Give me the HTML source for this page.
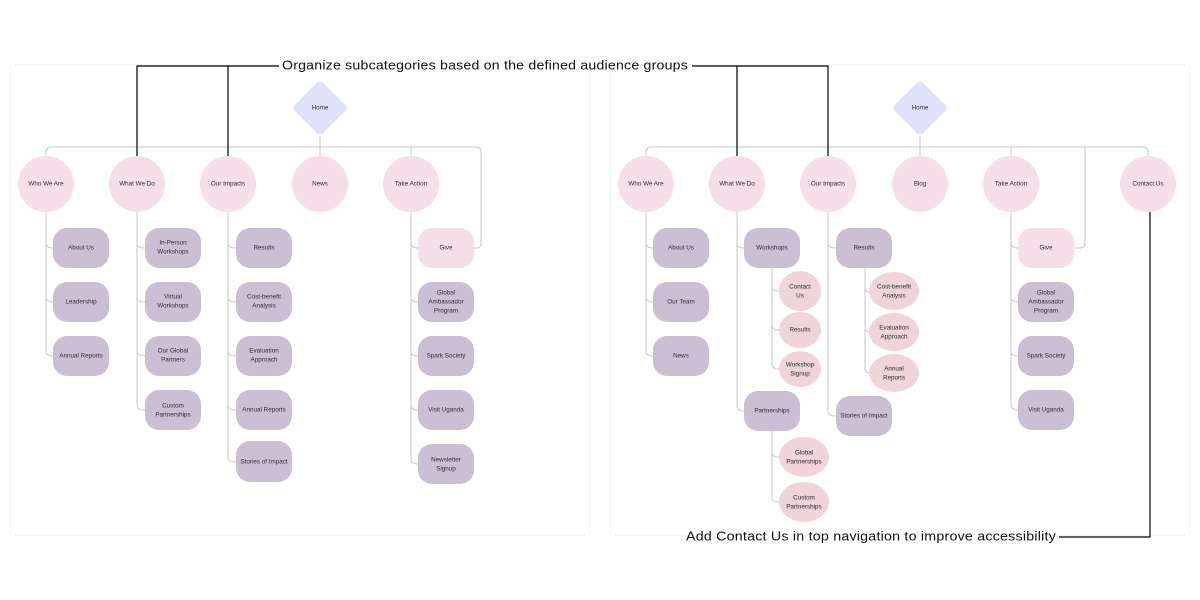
<!DOCTYPE html>
<html><head><meta charset="utf-8"><style>
html,body{margin:0;padding:0;background:#fff;width:1200px;height:600px;overflow:hidden}
svg text{font-family:"Liberation Sans",sans-serif}
.n{font-size:6.3px;fill:#2e2a33;text-anchor:middle;dominant-baseline:middle}
.a{font-size:13px;fill:#111;letter-spacing:0.2px;dominant-baseline:middle}
.c{fill:none;stroke:#c8c6cc;stroke-width:1}
.k{fill:none;stroke:#000;stroke-width:1.2}
.r{fill:#cbc0d3}
.p{fill:#f5dfe8}
.e{fill:#efd4da}
.d{fill:#dfe1fb}
</style></head><body>
<svg width="1200" height="600" viewBox="0 0 1200 600" xmlns="http://www.w3.org/2000/svg">
<rect x="10" y="65" width="580" height="470" rx="4" fill="#fff" stroke="#f2f2f4"/>
<rect x="610" y="65" width="580" height="470" rx="4" fill="#fff" stroke="#f2f2f4"/>

<!-- LEFT connectors -->
<path class="c" d="M320 136 V147 M46 156 V152 Q46 147 51 147 H476 Q481 147 481 152 V243 Q481 248 476 248 H474"/>
<path class="c" d="M137 147 V156 M228 147 V156 M320 147 V156 M411 147 V156"/>
<path class="c" d="M46 212 V351 Q46 356 53 356 M46 243 Q46 248 53 248 M46 297 Q46 302 53 302"/>
<path class="c" d="M137 212 V405 Q137 410 145 410 M137 243 Q137 248 145 248 M137 297 Q137 302 145 302 M137 351 Q137 356 145 356"/>
<path class="c" d="M228 212 V457 Q228 462 236 462 M228 243 Q228 248 236 248 M228 297 Q228 302 236 302 M228 351 Q228 356 236 356 M228 405 Q228 410 236 410"/>
<path class="c" d="M411 212 V459 Q411 464 418 464 M411 243 Q411 248 418 248 M411 297 Q411 302 418 302 M411 351 Q411 356 418 356 M411 405 Q411 410 418 410"/>

<!-- LEFT nodes -->
<rect class="d" x="300" y="88" width="40" height="40" rx="4" transform="rotate(45 320 108)"/>
<text class="n" x="320" y="108">Home</text>
<circle class="p" cx="46" cy="184" r="28"/><text class="n" x="46" y="184">Who We Are</text>
<circle class="p" cx="137" cy="184" r="28"/><text class="n" x="137" y="184">What We Do</text>
<circle class="p" cx="228" cy="184" r="28"/><text class="n" x="228" y="184">Our Impacts</text>
<circle class="p" cx="320" cy="184" r="28"/><text class="n" x="320" y="184">News</text>
<circle class="p" cx="411" cy="184" r="28"/><text class="n" x="411" y="184">Take Action</text>

<rect class="r" x="53" y="228" width="56" height="40" rx="14"/><text class="n" x="81" y="248">About Us</text>
<rect class="r" x="53" y="282" width="56" height="40" rx="14"/><text class="n" x="81" y="302">Leadership</text>
<rect class="r" x="53" y="336" width="56" height="40" rx="14"/><text class="n" x="81" y="356">Annual Reports</text>

<rect class="r" x="145" y="228" width="56" height="40" rx="14"/><text class="n" x="173" y="243">In-Person</text><text class="n" x="173" y="252">Workshops</text>
<rect class="r" x="145" y="282" width="56" height="40" rx="14"/><text class="n" x="173" y="297">Virtual</text><text class="n" x="173" y="306">Workshops</text>
<rect class="r" x="145" y="336" width="56" height="40" rx="14"/><text class="n" x="173" y="351">Our Global</text><text class="n" x="173" y="360">Partners</text>
<rect class="r" x="145" y="390" width="56" height="40" rx="14"/><text class="n" x="173" y="406">Custom</text><text class="n" x="173" y="415">Partnerships</text>

<rect class="r" x="236" y="228" width="56" height="40" rx="14"/><text class="n" x="264" y="248">Results</text>
<rect class="r" x="236" y="282" width="56" height="40" rx="14"/><text class="n" x="264" y="297">Cost-benefit</text><text class="n" x="264" y="306">Analysis</text>
<rect class="r" x="236" y="336" width="56" height="40" rx="14"/><text class="n" x="264" y="351">Evaluation</text><text class="n" x="264" y="360">Approach</text>
<rect class="r" x="236" y="390" width="56" height="40" rx="14"/><text class="n" x="264" y="410">Annual Reports</text>
<rect class="r" x="236" y="441" width="56" height="41" rx="14"/><text class="n" x="264" y="462">Stories of Impact</text>

<rect class="p" x="418" y="228" width="56" height="40" rx="14"/><text class="n" x="446" y="248">Give</text>
<rect class="r" x="418" y="282" width="56" height="40" rx="14"/><text class="n" x="446" y="293">Global</text><text class="n" x="446" y="302">Ambassador</text><text class="n" x="446" y="311">Program</text>
<rect class="r" x="418" y="336" width="56" height="40" rx="14"/><text class="n" x="446" y="356">Spark Society</text>
<rect class="r" x="418" y="390" width="56" height="40" rx="14"/><text class="n" x="446" y="410">Visit Uganda</text>
<rect class="r" x="418" y="444" width="56" height="40" rx="14"/><text class="n" x="446" y="460">Newsletter</text><text class="n" x="446" y="469">Signup</text>

<!-- RIGHT connectors -->
<path class="c" d="M920 136 V147 M646 156 V152 Q646 147 651 147 H1143 Q1148 147 1148 152 V156"/>
<path class="c" d="M737 147 V156 M828 147 V156 M920 147 V156 M1011 147 V156 M1085 147 V243 Q1085 248 1080 248 H1074"/>
<path class="c" d="M646 212 V351 Q646 356 653 356 M646 243 Q646 248 653 248 M646 297 Q646 302 653 302"/>
<path class="c" d="M737 212 V406 Q737 411 744 411 M737 243 Q737 248 744 248"/>
<path class="c" d="M772 268 V364 Q772 369 779 369 M772 286 Q772 291 779 291 M772 325 Q772 330 779 330"/>
<path class="c" d="M772 431 V497 Q772 502 779 502 M772 452 Q772 457 779 457"/>
<path class="c" d="M828 212 V411 Q828 416 836 416 M828 243 Q828 248 836 248"/>
<path class="c" d="M865 268 V368 Q865 373 869 373 M865 287 Q865 292 869 292 M865 327 Q865 332 869 332"/>
<path class="c" d="M1011 212 V405 Q1011 410 1018 410 M1011 243 Q1011 248 1018 248 M1011 297 Q1011 302 1018 302 M1011 351 Q1011 356 1018 356"/>

<!-- RIGHT nodes -->
<rect class="d" x="900" y="88" width="40" height="40" rx="4" transform="rotate(45 920 108)"/>
<text class="n" x="920" y="108">Home</text>
<circle class="p" cx="646" cy="184" r="28"/><text class="n" x="646" y="184">Who We Are</text>
<circle class="p" cx="737" cy="184" r="28"/><text class="n" x="737" y="184">What We Do</text>
<circle class="p" cx="828" cy="184" r="28"/><text class="n" x="828" y="184">Our Impacts</text>
<circle class="p" cx="920" cy="184" r="28"/><text class="n" x="920" y="184">Blog</text>
<circle class="p" cx="1011" cy="184" r="28"/><text class="n" x="1011" y="184">Take Action</text>
<circle class="p" cx="1148" cy="184" r="28"/><text class="n" x="1148" y="184">Contact Us</text>

<rect class="r" x="653" y="228" width="56" height="40" rx="14"/><text class="n" x="681" y="248">About Us</text>
<rect class="r" x="653" y="282" width="56" height="40" rx="14"/><text class="n" x="681" y="302">Our Team</text>
<rect class="r" x="653" y="336" width="56" height="40" rx="14"/><text class="n" x="681" y="356">News</text>

<rect class="r" x="744" y="228" width="56" height="40" rx="14"/><text class="n" x="772" y="248">Workshops</text>
<ellipse class="e" cx="800" cy="291" rx="21" ry="20"/><text class="n" x="800" y="287">Contact</text><text class="n" x="800" y="296">Us</text>
<ellipse class="e" cx="800" cy="330" rx="21" ry="18"/><text class="n" x="800" y="330">Results</text>
<ellipse class="e" cx="800" cy="369" rx="21" ry="18"/><text class="n" x="800" y="365">Workshop</text><text class="n" x="800" y="374">Signup</text>
<rect class="r" x="744" y="391" width="56" height="40" rx="14"/><text class="n" x="772" y="411">Partnerships</text>
<ellipse class="e" cx="804" cy="457" rx="25" ry="20"/><text class="n" x="804" y="453">Global</text><text class="n" x="804" y="462">Partnerships</text>
<ellipse class="e" cx="804" cy="502" rx="25" ry="20"/><text class="n" x="804" y="498">Custom</text><text class="n" x="804" y="507">Partnerships</text>

<rect class="r" x="836" y="228" width="56" height="40" rx="14"/><text class="n" x="864" y="248">Results</text>
<ellipse class="e" cx="894" cy="291" rx="25" ry="19"/><text class="n" x="894" y="287">Cost-benefit</text><text class="n" x="894" y="296">Analysis</text>
<ellipse class="e" cx="894" cy="332" rx="25" ry="19"/><text class="n" x="894" y="328">Evaluation</text><text class="n" x="894" y="337">Approach</text>
<ellipse class="e" cx="894" cy="373" rx="25" ry="19"/><text class="n" x="894" y="369">Annual</text><text class="n" x="894" y="378">Reports</text>
<rect class="r" x="836" y="396" width="56" height="40" rx="14"/><text class="n" x="864" y="416">Stories of Impact</text>

<rect class="p" x="1018" y="228" width="56" height="40" rx="14"/><text class="n" x="1046" y="248">Give</text>
<rect class="r" x="1018" y="282" width="56" height="40" rx="14"/><text class="n" x="1046" y="293">Global</text><text class="n" x="1046" y="302">Ambassador</text><text class="n" x="1046" y="311">Program</text>
<rect class="r" x="1018" y="336" width="56" height="40" rx="14"/><text class="n" x="1046" y="356">Spark Society</text>
<rect class="r" x="1018" y="390" width="56" height="40" rx="14"/><text class="n" x="1046" y="410">Visit Uganda</text>

<!-- annotations -->
<path class="k" d="M137 156 V66 H279 M228 66 V156 M692 66 H828 V156 M737 66 V156"/>
<text class="a" x="282" y="66" textLength="406" lengthAdjust="spacingAndGlyphs">Organize subcategories based on the defined audience groups</text>
<path class="k" d="M1150 212 V537 H1059"/>
<text class="a" x="686" y="537" textLength="370" lengthAdjust="spacingAndGlyphs">Add Contact Us in top navigation to improve accessibility</text>
</svg>
</body></html>
